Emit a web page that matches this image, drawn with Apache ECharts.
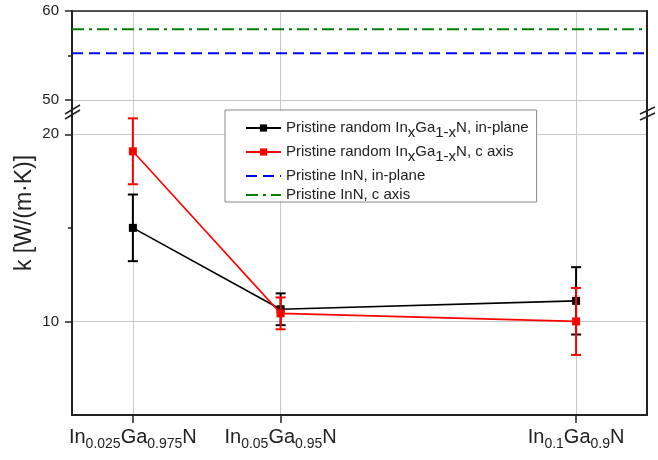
<!DOCTYPE html>
<html><head><meta charset="utf-8">
<script src="https://cdn.jsdelivr.net/npm/echarts@6/dist/echarts.min.js"></script>
<style>html,body{margin:0;padding:0;background:#fff}#c{width:658px;height:460px}</style>
</head><body><div id="c"></div>
<script>
// ---- data ----
const xValues = [0.025, 0.05, 0.1];
const inFraction = ['0.025', '0.05', '0.1'];
const gaFraction = ['0.975', '0.95', '0.9'];
const inPlane = [15.0, 10.65, 11.1];
const inPlaneErr = [1.78, 0.85, 1.8];
const cAxis = [19.09, 10.43, 10.0];
const cAxisErr = [1.76, 0.85, 1.79];
const innInPlane = 55.25;
const innCAxis = 57.95;
const xRange = [0.0147, 0.112];
const upperRange = [48.65, 60];
const lowerRange = [5, 21.19];
const upperTicks = [50, 60];
const upperMinorTicks = [55];
const lowerTicks = [10, 20];
const lowerMinorTicks = [15];
const seriesNames = [
  'Pristine random InxGa1-xN, in-plane',
  'Pristine random InxGa1-xN, c axis',
  'Pristine InN, in-plane',
  'Pristine InN, c axis'
];
const yTitle = 'k [W/(m\u00B7K)]';

// ---- styling ----
const FONT = '"Liberation Sans", Arial, sans-serif';
const AX = '#222';
const GRIDC = '#c8c8c8';

const chart = echarts.init(document.getElementById('c'), null, {renderer: 'canvas'});

function errorBarSeries(name, vals, errs, color, z) {
  return {
    type: 'custom',
    name: name + ' err',
    xAxisIndex: 1, yAxisIndex: 3,
    z: z,
    silent: true,
    data: xValues.map((x, i) => [x, vals[i], vals[i] - errs[i], vals[i] + errs[i]]),
    renderItem: function (params, api) {
      const x = api.value(0);
      const lo = api.coord([x, api.value(2)]);
      const hi = api.coord([x, api.value(3)]);
      const hw = 5;
      const st = {stroke: color, lineWidth: 2};
      return {
        type: 'group',
        children: [
          {type: 'line', shape: {x1: lo[0], y1: lo[1], x2: hi[0], y2: hi[1]}, style: st},
          {type: 'line', shape: {x1: lo[0] - hw, y1: lo[1], x2: lo[0] + hw, y2: lo[1]}, style: st},
          {type: 'line', shape: {x1: hi[0] - hw, y1: hi[1], x2: hi[0] + hw, y2: hi[1]}, style: st}
        ]
      };
    }
  };
}

function yAxisPair(grid, range, ticks, minor) {
  return [
    {
      type: 'value', gridIndex: grid, position: 'left', min: range[0], max: range[1],
      axisLine: {show: true, onZero: false, lineStyle: {color: AX, width: 2}},
      axisTick: {show: true, inside: false, length: 7, customValues: ticks, lineStyle: {color: AX, width: 1.5}},
      axisLabel: {show: true, customValues: ticks, margin: 13, fontSize: 15, fontFamily: FONT, color: AX},
      splitLine: {show: true, lineStyle: {color: GRIDC, width: 1}}
    },
    {
      type: 'value', gridIndex: grid, position: 'left', min: range[0], max: range[1],
      axisLine: {show: false},
      axisTick: {show: true, inside: false, length: 4, customValues: minor, lineStyle: {color: AX, width: 1.5}},
      axisLabel: {show: false, customValues: minor},
      splitLine: {show: false}
    },
    {
      type: 'value', gridIndex: grid, position: 'right', min: range[0], max: range[1],
      axisLine: {show: true, onZero: false, lineStyle: {color: AX, width: 2}},
      axisTick: {show: false}, axisLabel: {show: false}, splitLine: {show: false}
    }
  ];
}

const legendRich = {
  n: {fontSize: 15, fontFamily: FONT, color: AX, lineHeight: 16, verticalAlign: 'top'},
  s: {fontSize: 15, fontFamily: FONT, color: AX, lineHeight: 16, verticalAlign: 'top', padding: [5, 0, 0, 0]}
};

const option = {
  animation: false,
  backgroundColor: '#fff',
  grid: [
    {left: 72, right: 11, top: 11, height: 101, containLabel: false},
    {left: 72, right: 11, top: 112, height: 303, containLabel: false}
  ],
  xAxis: [
    {
      type: 'value', gridIndex: 0, position: 'top', min: xRange[0], max: xRange[1],
      axisLine: {show: true, onZero: false, lineStyle: {color: AX, width: 1.6}},
      axisTick: {show: false, customValues: xValues},
      axisLabel: {show: false, customValues: xValues},
      splitLine: {show: true, lineStyle: {color: GRIDC, width: 1}}
    },
    {
      type: 'value', gridIndex: 1, position: 'bottom', min: xRange[0], max: xRange[1],
      axisLine: {show: true, onZero: false, lineStyle: {color: AX, width: 2}},
      axisTick: {show: true, length: 8, customValues: xValues, lineStyle: {color: AX, width: 1.5}},
      axisLabel: {
        show: true, customValues: xValues, margin: 12,
        formatter: function (v) {
          const i = xValues.findIndex(x => Math.abs(x - v) < 1e-9);
          if (i < 0) return '';
          return '{n|In}{s|' + inFraction[i] + '}{n|Ga}{s|' + gaFraction[i] + '}{n|N}';
        },
        rich: {
          n: {fontSize: 20, fontFamily: FONT, color: AX, lineHeight: 22, verticalAlign: 'top'},
          s: {fontSize: 14, fontFamily: FONT, color: AX, lineHeight: 16, verticalAlign: 'top', padding: [10, 0, 0, 0]}
        }
      },
      splitLine: {show: true, lineStyle: {color: GRIDC, width: 1}}
    }
  ],
  yAxis: [].concat(
    yAxisPair(0, upperRange, upperTicks, upperMinorTicks),
    yAxisPair(1, lowerRange, lowerTicks, lowerMinorTicks)
  ),
  legend: {
    data: seriesNames,
    orient: 'vertical',
    left: 225, top: 110,
    itemWidth: 35, itemHeight: 9, itemGap: 4,
    padding: [10, 8, 0, 20],
    backgroundColor: '#fff',
    borderColor: '#888', borderWidth: 1, borderRadius: 0,
    selectedMode: false,
    formatter: function (name) {
      if (name.indexOf('InxGa1-xN') >= 0) {
        const parts = name.split('InxGa1-xN');
        return '{n|' + parts[0] + 'In}{s|x}{n|Ga}{s|1-x}{n|N' + parts[1] + '}';
      }
      return '{n|' + name + '}';
    },
    textStyle: {fontSize: 15, fontFamily: FONT, color: AX, rich: legendRich}
  },
  series: [
    errorBarSeries(seriesNames[0], inPlane, inPlaneErr, '#000000', 3),
    {
      type: 'line', name: seriesNames[0], xAxisIndex: 1, yAxisIndex: 3, z: 3,
      data: xValues.map((x, i) => [x, inPlane[i]]),
      symbol: 'rect', symbolSize: 8,
      itemStyle: {color: '#000000'},
      lineStyle: {color: '#000000', width: 1.6}
    },
    errorBarSeries(seriesNames[1], cAxis, cAxisErr, '#ff0000', 4),
    {
      type: 'line', name: seriesNames[1], xAxisIndex: 1, yAxisIndex: 3, z: 4,
      data: xValues.map((x, i) => [x, cAxis[i]]),
      symbol: 'rect', symbolSize: 8,
      itemStyle: {color: '#ff0000'},
      lineStyle: {color: '#ff0000', width: 1.6}
    },
    {
      type: 'line', name: seriesNames[2], xAxisIndex: 0, yAxisIndex: 0,
      data: [[xRange[0], innInPlane], [xRange[1], innInPlane]],
      showSymbol: false, symbol: 'rect',
      itemStyle: {color: 'rgba(0,0,0,0)'},
      lineStyle: {color: '#0000ff', width: 2, type: [11, 6]}
    },
    {
      type: 'line', name: seriesNames[3], xAxisIndex: 0, yAxisIndex: 0,
      data: [[xRange[0], innCAxis], [xRange[1], innCAxis]],
      showSymbol: false, symbol: 'rect',
      itemStyle: {color: 'rgba(0,0,0,0)'},
      lineStyle: {color: '#008000', width: 2, type: [12, 5, 3, 5]}
    }
  ],
  graphic: [
    {
      type: 'text', x: 25, y: 213, rotation: Math.PI / 2,
      style: {text: yTitle, fontSize: 23, fontFamily: FONT, fill: AX, align: 'center', verticalAlign: 'middle'}
    },
    {type: 'line', shape: {x1: 65, y1: 114, x2: 80, y2: 105}, style: {stroke: AX, lineWidth: 1.5}},
    {type: 'line', shape: {x1: 65, y1: 119, x2: 80, y2: 110}, style: {stroke: AX, lineWidth: 1.5}},
    {type: 'line', shape: {x1: 640, y1: 114, x2: 655, y2: 107}, style: {stroke: AX, lineWidth: 1.5}},
    {type: 'line', shape: {x1: 640, y1: 120, x2: 655, y2: 113}, style: {stroke: AX, lineWidth: 1.5}}
  ]
};

chart.setOption(option);
</script>
</body></html>
